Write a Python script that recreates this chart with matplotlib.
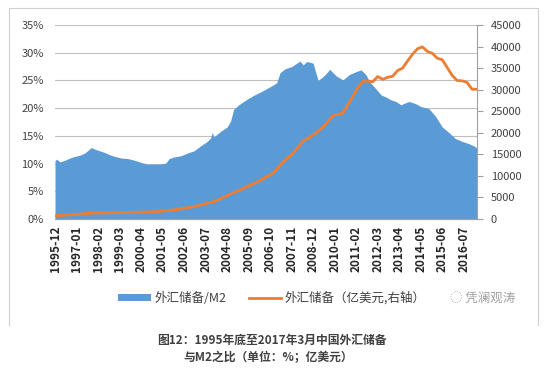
import matplotlib
matplotlib.use("Agg")
import matplotlib.pyplot as plt
from matplotlib.patches import Patch
from matplotlib.lines import Line2D

plt.rcParams['font.family'] = ['Noto Sans CJK SC', 'DejaVu Sans']

# 外汇储备/M2 (%)
ratio_months = ["1995-12", "1996-01", "1996-03", "1996-06", "1996-09", "1996-12", "1997-03",
                "1997-06", "1997-10", "1997-12", "1998-03", "1998-06", "1998-09", "1998-12",
                "1999-04", "1999-08", "1999-12", "2000-04", "2000-08", "2000-12", "2001-04",
                "2001-07", "2001-09", "2001-12", "2002-04", "2002-08", "2002-12", "2003-04",
                "2003-08", "2003-10", "2003-11", "2003-12", "2004-04", "2004-08", "2004-10",
                "2004-12", "2005-03", "2005-08", "2005-12", "2006-06", "2006-12", "2007-02",
                "2007-04", "2007-07", "2007-11", "2008-01", "2008-04", "2008-06", "2008-08",
                "2008-10", "2008-12", "2009-01", "2009-03", "2009-06", "2009-08", "2009-10",
                "2010-02", "2010-06", "2010-10", "2011-02", "2011-05", "2011-08", "2011-10",
                "2012-01", "2012-05", "2012-08", "2012-11", "2013-02", "2013-05", "2013-08",
                "2013-10", "2014-02", "2014-05", "2014-10", "2015-02", "2015-06", "2015-10",
                "2016-02", "2016-06", "2016-10", "2017-01", "2017-03"]
ratio_vals = [10.5, 10.8, 10.3, 10.6, 11.0, 11.3, 11.5,
              11.9, 12.9, 12.6, 12.3, 12.0, 11.6, 11.3,
              11.0, 10.9, 10.6, 10.2, 9.9, 9.9, 9.9,
              10.1, 10.9, 11.2, 11.4, 11.9, 12.3, 13.2,
              14.0, 14.6, 15.6, 14.8, 15.8, 16.6, 17.6,
              19.8, 20.6, 21.6, 22.3, 23.2, 24.2, 24.6,
              26.4, 27.1, 27.5, 27.9, 28.5, 27.8, 28.4,
              28.3, 28.1, 27.0, 25.0, 25.7, 26.3, 27.0,
              25.8, 25.1, 26.1, 26.6, 26.9, 26.0, 24.8,
              23.8, 22.4, 22.0, 21.5, 21.2, 20.6, 21.0,
              21.2, 20.8, 20.3, 19.9, 18.5, 16.6, 15.6,
              14.5, 14.0, 13.6, 13.2, 12.8]

# 外汇储备 (亿美元)
fx_months = ["1995-12", "1996-12", "1997-12", "1998-12", "1999-12", "2000-12", "2001-12",
             "2002-12", "2003-12", "2004-12", "2005-06", "2005-12", "2006-06", "2006-12",
             "2007-06", "2007-12", "2008-06", "2008-12", "2009-06", "2009-12", "2010-06",
             "2010-12", "2011-03", "2011-06", "2011-09", "2011-12", "2012-03", "2012-06",
             "2012-09", "2012-12", "2013-03", "2013-06", "2013-09", "2013-12", "2014-03",
             "2014-06", "2014-09", "2014-12", "2015-03", "2015-06", "2015-09", "2015-12",
             "2016-03", "2016-06", "2016-09", "2016-12", "2017-03"]
fx_vals = [740, 1050, 1400, 1450, 1550, 1660, 2120,
           2860, 4030, 6100, 7110, 8190, 9410, 10660,
           13330, 15280, 18090, 19460, 21320, 23990, 24540,
           28470, 30450, 31970, 32020, 31810, 33050, 32400,
           32850, 33120, 34430, 35000, 36630, 38210, 39480,
           39930, 38880, 38430, 37300, 36940, 35140, 33300,
           32130, 32050, 31660, 30110, 30090]

tick_labels = ["1995-12", "1997-01", "1998-02", "1999-03", "2000-04", "2001-05", "2002-06",
               "2003-07", "2004-08", "2005-09", "2006-10", "2007-11", "2008-12", "2010-01",
               "2011-02", "2012-03", "2013-04", "2014-05", "2015-06", "2016-07"]


def midx(s):
    y, m = s.split("-")
    return (int(y) - 1995) * 12 + int(m) - 12


fig = plt.figure(figsize=(5.5, 3.71), dpi=100)
ax = fig.add_axes([55 / 550, 1 - 219 / 371, 422 / 550, 194 / 371])
ax2 = ax.twinx()

rx = [midx(s) for s in ratio_months]
ax.fill_between(rx, [v / 100 for v in ratio_vals], 0, color="#5B9BD5", lw=0, zorder=2)
ax.set_ylim(0, 0.35)
ax.set_xlim(0, 255)
ax.set_yticks([i * 0.05 for i in range(8)])
ax.set_yticklabels(["%d%%" % (i * 5) for i in range(8)])
ax.grid(axis="y", color="#BFBFBF", lw=0.8, zorder=0)
ax.set_axisbelow(True)

fx = [midx(s) for s in fx_months]
ax2.plot(fx, fx_vals, color="#ED7D31", lw=2.0)
ax2.set_ylim(0, 45000)
ax2.set_yticks(range(0, 45001, 5000))

ax.set_xticks([midx(s) for s in tick_labels])
ax.set_xticklabels(tick_labels, rotation=90, fontsize=8.5, fontweight="bold", color="#262626")
ax.tick_params(axis="x", length=0, pad=5)
ax.tick_params(axis="y", length=0, labelsize=8, labelcolor="#404040", pad=8)
ax2.tick_params(axis="y", length=4, direction="out", color="#A0A0A0", labelsize=8,
                labelcolor="#404040", pad=6)

for a in (ax, ax2):
    a.spines["top"].set_visible(False)
    a.spines["left"].set_visible(False)
    a.spines["right"].set_visible(False)
    a.spines["bottom"].set_color("#A0A0A0")
ax2.spines["right"].set_visible(True)
ax2.spines["right"].set_color("#A0A0A0")

# chart border
fig.add_artist(Line2D([9 / 550, 9 / 550, 538 / 550, 538 / 550],
                      [1 - 325 / 371, 1 - 8 / 371, 1 - 8 / 371, 1 - 325 / 371],
                      color="#D0D0D0", lw=0.8))

handles = [Patch(facecolor="#5B9BD5", edgecolor="none"),
           Line2D([], [], color="#ED7D31", lw=2)]
fig.legend(handles, ["外汇储备/M2", "外汇储备（亿美元,右轴）"], ncol=2, frameon=False,
           loc="center", bbox_to_anchor=(272 / 550, 1 - 298 / 371), fontsize=9,
           handlelength=2.6, handleheight=0.5, columnspacing=1.8, handletextpad=0.3,
           labelcolor="#404040")
fig.text(450 / 550, 1 - 298 / 371, "◌ 凭澜观涛", fontsize=9, color="#A0A0A0",
         va="center", ha="left")

fig.text(272 / 550, 1 - 340 / 371, "图12：1995年底至2017年3月中国外汇储备", fontsize=8.5,
         fontweight="bold", color="#404040", ha="center", va="center")
fig.text(268 / 550, 1 - 358 / 371, "与M2之比（单位：%；亿美元）", fontsize=8.5,
         fontweight="bold", color="#404040", ha="center", va="center")

fig.savefig("out.png", dpi=100)
